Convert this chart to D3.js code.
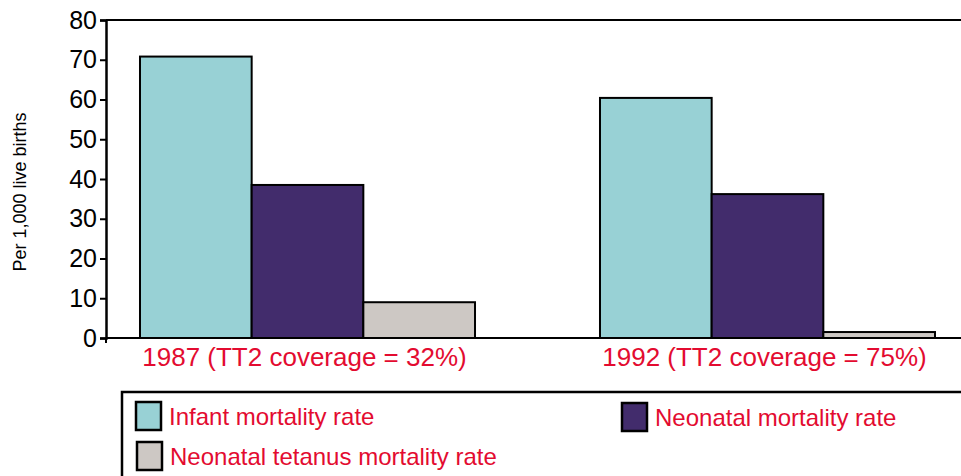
<!DOCTYPE html>
<html>
<head>
<meta charset="utf-8">
<script src="https://cdn.jsdelivr.net/npm/d3@7"></script>
<style>
  body { margin: 0; background: #fff; }
  svg { display: block; font-family: Arial, "Liberation Sans", sans-serif; }
</style>
</head>
<body>
<svg width="961" height="476"></svg>
<script>
// chart data
var years = ["1987 (TT2 coverage = 32%)", "1992 (TT2 coverage = 75%)"];
var seriesNames = ["Infant mortality rate", "Neonatal mortality rate", "Neonatal tetanus mortality rate"];
var infantRate = [70.8, 60.4];
var neonatalRate = [38.5, 36.2];
var tetanusRate = [9.0, 1.5];
var yTicks = [0, 10, 20, 30, 40, 50, 60, 70, 80];

var colors = ["#98d1d5", "#422c6c", "#cdc8c4"];
var red = "#e30b30";

var svg = d3.select("svg");

var seriesValues = [infantRate, neonatalRate, tetanusRate];
var data = [];
years.forEach(function(yr, i) {
    seriesNames.forEach(function(s, j) {
        data.push({ year: yr, series: s, value: seriesValues[j][i], color: colors[j] });
    });
});

var x = d3.scaleBand()
    .domain(years)
    .range([106, 969])
    .paddingInner(0.2717)
    .paddingOuter(0.0739);

var x1 = d3.scaleBand()
    .domain(seriesNames)
    .range([0, x.bandwidth()])
    .padding(0);

var y = d3.scaleLinear()
    .domain([0, 80])
    .range([338, 20]);

// bars
svg.append("g")
    .selectAll("rect")
    .data(data)
    .enter()
    .append("rect")
    .attr("x", function(d) { return x(d.year) + x1(d.series); })
    .attr("y", function(d) { return y(d.value); })
    .attr("width", x1.bandwidth())
    .attr("height", function(d) { return y(0) - y(d.value); })
    .attr("fill", function(d) { return d.color; })
    .attr("stroke", "#000")
    .attr("stroke-width", 2);

// top border line
svg.append("line")
    .attr("x1", 106).attr("x2", 961)
    .attr("y1", y(80)).attr("y2", y(80))
    .attr("stroke", "#000").attr("stroke-width", 2);

// y axis
var yAxis = svg.append("g")
    .attr("transform", "translate(106,0)")
    .call(d3.axisLeft(y).tickValues(yTicks).tickSize(6).tickPadding(3));
yAxis.select(".domain").attr("stroke-width", 2.5);
yAxis.selectAll(".tick line").attr("stroke-width", 2);
yAxis.selectAll(".tick text")
    .attr("font-size", 25)
    .attr("fill", "#000")
    .attr("font-family", "Arial, 'Liberation Sans', sans-serif");

// x axis
var xAxis = svg.append("g")
    .attr("transform", "translate(0," + y(0) + ")")
    .call(d3.axisBottom(x).tickSize(0).tickPadding(10));
xAxis.select(".domain")
    .attr("d", "M106,0H961")
    .attr("stroke-width", 2);
xAxis.selectAll(".tick text")
    .attr("font-size", 26)
    .attr("fill", red)
    .attr("dx", -3)
    .attr("font-family", "Arial, 'Liberation Sans', sans-serif");
svg.append("line")
    .attr("x1", 106).attr("x2", 106)
    .attr("y1", y(0)).attr("y2", y(0) + 5)
    .attr("stroke", "#000").attr("stroke-width", 2);

// y axis label
svg.append("text")
    .attr("transform", "translate(26,192)rotate(-90)")
    .attr("text-anchor", "middle")
    .attr("font-size", 18)
    .attr("fill", "#000")
    .text("Per 1,000 live births");

// legend
svg.append("rect")
    .attr("x", 122).attr("y", 392)
    .attr("width", 860).attr("height", 100)
    .attr("fill", "#fff")
    .attr("stroke", "#000").attr("stroke-width", 2.5);

var legendPos = [[136, 402], [622, 403], [137, 442]];
var legend = svg.selectAll(".legend")
    .data(seriesNames)
    .enter()
    .append("g")
    .attr("class", "legend")
    .attr("transform", function(d, i) { return "translate(" + legendPos[i][0] + "," + legendPos[i][1] + ")"; });

legend.append("rect")
    .attr("width", 25).attr("height", 28)
    .attr("fill", function(d, i) { return colors[i]; })
    .attr("stroke", "#000").attr("stroke-width", 2.5);

legend.append("text")
    .attr("x", 33).attr("y", 23)
    .attr("font-size", 24)
    .attr("fill", red)
    .text(function(d) { return d; });
</script>
</body>
</html>
